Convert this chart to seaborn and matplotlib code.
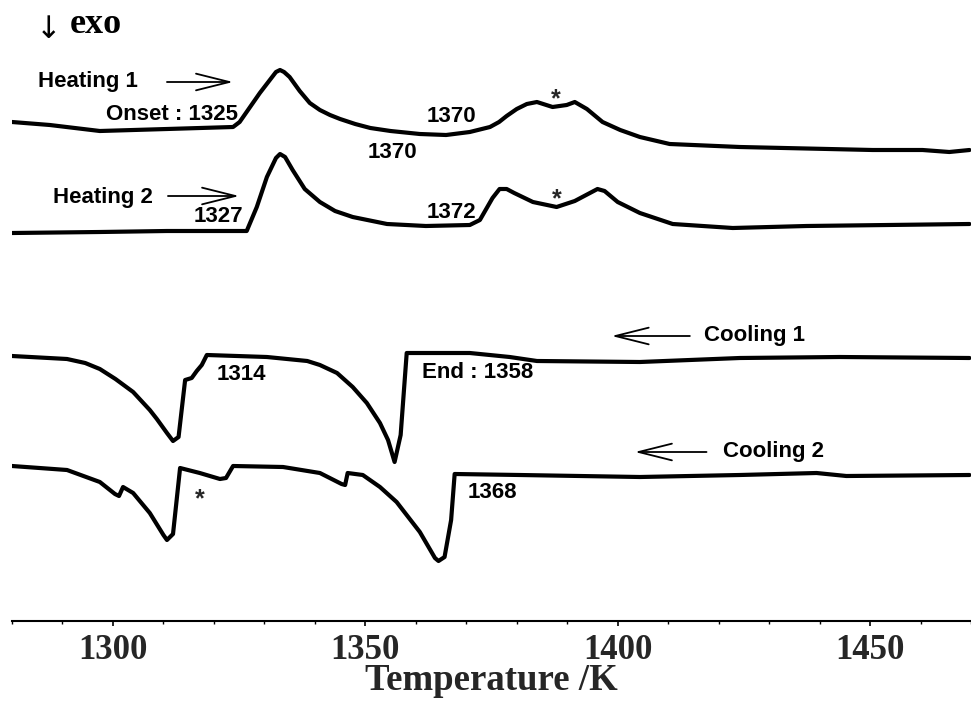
import numpy as np
import pandas as pd
import matplotlib
matplotlib.use("Agg")
import matplotlib.pyplot as plt
from matplotlib.ticker import MultipleLocator
import seaborn as sns

# ---------------- data (temperature in K, DSC signal in arbitrary units) ----------------
heat1_T = [1280.0, 1287.5, 1297.4, 1310.7, 1323.8, 1325.1, 1329.1, 1332.3, 1333.1, 1333.9,
           1335.0, 1337.0, 1339.0, 1341.0, 1343.0, 1345.0, 1348.0, 1351.0, 1355.0, 1360.8,
           1366.0, 1370.7, 1374.7, 1376.5, 1378.0, 1380.0, 1382.0, 1384.0, 1387.1, 1389.9,
           1391.5, 1393.9, 1397.0, 1400.5, 1404.4, 1410.3, 1424.2, 1450.5, 1460.4, 1465.7,
           1469.7]
heat1_S = [499, 496, 490, 492, 494, 499, 528, 549, 551, 549,
           544, 530, 518, 511, 506, 502, 497, 493, 490, 487,
           486, 489, 494, 499, 505, 512, 517, 519, 514, 516,
           519, 512, 499, 491, 484, 477, 474, 471, 471, 469,
           471]

heat2_T = [1280.0, 1297.4, 1310.7, 1326.5, 1328.5, 1330.5, 1332.3, 1333.1, 1334.1, 1335.6,
           1338.0, 1341.0, 1344.0, 1347.5, 1354.3, 1362.0, 1370.7, 1372.7, 1375.2, 1376.6,
           1378.0, 1379.5, 1383.2, 1387.9, 1391.5, 1394.5, 1396.0, 1397.4, 1400.0, 1404.4,
           1410.9, 1422.8, 1437.4, 1469.7]
heat2_S = [388, 389, 390, 390, 414, 444, 463, 467, 464, 451,
           432, 419, 410, 404, 397, 395, 396, 401, 423, 432,
           432, 428, 419, 414, 420, 428, 432, 430, 419, 408,
           397, 393, 395, 397]

cool1_T = [1280.0, 1290.9, 1294.5, 1297.4, 1300.5, 1304.0, 1307.3, 1308.7, 1310.7, 1311.9,
           1313.0, 1314.3, 1315.6, 1316.6, 1317.6, 1318.6, 1330.5, 1338.5, 1341.0, 1344.4,
           1347.5, 1350.3, 1352.9, 1354.5, 1355.8, 1357.0, 1358.2, 1370.7, 1378.6, 1384.0,
           1404.4, 1424.2, 1444.0, 1469.7]
cool1_S = [265, 262, 258, 252, 242, 229, 211, 202, 188, 180,
           184, 241, 243, 250, 256, 266, 264, 260, 256, 248,
           234, 218, 198, 181, 159, 186, 268, 268, 264, 260,
           259, 263, 264, 263]

cool2_T = [1280.0, 1290.9, 1297.4, 1300.4, 1301.2, 1302.0, 1304.0, 1307.3, 1310.0, 1310.7,
           1311.9, 1313.3, 1317.2, 1321.2, 1322.4, 1323.8, 1333.7, 1341.0, 1345.3, 1346.0,
           1346.5, 1349.5, 1352.9, 1356.2, 1360.8, 1363.8, 1364.5, 1365.7, 1367.0, 1367.7,
           1380.6, 1404.4, 1424.2, 1439.4, 1445.3, 1469.7]
cool2_S = [155, 151, 139, 127, 125, 134, 128, 108, 86, 81,
           87, 153, 148, 142, 143, 155, 154, 148, 137, 136,
           148, 146, 134, 119, 89, 63, 60, 64, 101, 147,
           146, 144, 146, 148, 145, 146]

run_names = ["Heating 1", "Heating 2", "Cooling 1", "Cooling 2"]
tick_values = [1300, 1350, 1400, 1450]
tick_labels = ["1300", "1350", "1400", "1450"]

frames = []
for name, T, S in zip(run_names, [heat1_T, heat2_T, cool1_T, cool2_T],
                      [heat1_S, heat2_S, cool1_S, cool2_S]):
    frames.append(pd.DataFrame({"T": T, "signal": S, "run": name}))
df = pd.concat(frames, ignore_index=True)

# ---------------- plot ----------------
sns.set_theme(style="white")
plt.rcParams["font.family"] = ["Liberation Sans", "DejaVu Sans"]

W, H = 971, 702
fig = plt.figure(figsize=(W / 100, H / 100), dpi=100)
ax = fig.add_axes([12 / W, 81 / H, 959 / W, 621 / H])

sns.lineplot(data=df, x="T", y="signal", units="run", estimator=None, sort=False,
             color="black", linewidth=3.0, ax=ax,
             solid_joinstyle="round", solid_capstyle="round")

ax.set_xlim(1280, 1470)
ax.set_ylim(0, 621)
ax.set_yticks([])
ax.set_ylabel("")
for s in ["left", "top", "right"]:
    ax.spines[s].set_visible(False)
ax.spines["bottom"].set_color("black")
ax.spines["bottom"].set_linewidth(1.5)

ax.set_xticks(tick_values)
ax.set_xticklabels(tick_labels, fontfamily="Liberation Serif", fontweight="bold", fontsize=25)
ax.xaxis.set_minor_locator(MultipleLocator(10))
ax.tick_params(axis="x", which="major", bottom=True, length=3.5, width=1.2,
               direction="out", color="black", pad=6)
ax.tick_params(axis="x", which="minor", bottom=True, length=2, width=1.0,
               direction="out", color="black")
ax.set_xlabel("Temperature /K", fontfamily="Liberation Serif", fontweight="bold",
              fontsize=26.5, labelpad=-3)

# ---------------- annotations ----------------
fs = 16
txt = dict(fontsize=fs, fontweight="bold", color="black", va="center")
ax.text(1285.1, 539, "Heating 1", ha="left", **txt)
ax.text(1324.75, 507, "Onset : 1325", ha="right", **txt)
ax.text(1288.1, 424, "Heating 2", ha="left", **txt)
ax.text(1325.9, 405, "1327", ha="right", **txt)
ax.text(1362.2, 504, "1370", ha="left", **txt)
ax.text(1350.5, 468, "1370", ha="left", **txt)
ax.text(1362.2, 409, "1372", ha="left", **txt)
ax.text(1387.7, 522, "*", ha="center", fontsize=18, fontweight="bold", va="center")
ax.text(1387.9, 422, "*", ha="center", fontsize=18, fontweight="bold", va="center")
ax.text(1417.2, 286, "Cooling 1", ha="left", **txt)
ax.text(1420.8, 170, "Cooling 2", ha="left", **txt)
ax.text(1320.6, 247, "1314", ha="left", **txt)
ax.text(1361.2, 249, "End : 1358", ha="left", **txt)
ax.text(1317.2, 122, "*", ha="center", fontsize=18, fontweight="bold", va="center")
ax.text(1370.3, 129, "1368", ha="left", **txt)

arrow = dict(arrowstyle="->,head_length=1.6,head_width=0.4", lw=1.3, color="black",
             shrinkA=0, shrinkB=0, mutation_scale=15)
ax.annotate("", xy=(1323.8, 539), xytext=(1310.7, 539), arrowprops=arrow)
ax.annotate("", xy=(1325.0, 425), xytext=(1310.9, 425), arrowprops=arrow)
ax.annotate("", xy=(1398.8, 285), xytext=(1414.3, 285), arrowprops=arrow)
ax.annotate("", xy=(1403.4, 169), xytext=(1417.6, 169), arrowprops=arrow)

fig.text(49 / W, 1 - 38 / H, "\u2193", ha="center", va="baseline", fontsize=22,
         family=["DejaVu Sans"], color="black")
fig.text(70 / W, 1 - 33 / H, "exo", ha="left", va="baseline", fontsize=26,
         family=["Liberation Serif", "DejaVu Serif"], fontweight="bold", color="black")

fig.savefig("out.png", dpi=100, facecolor="white")
